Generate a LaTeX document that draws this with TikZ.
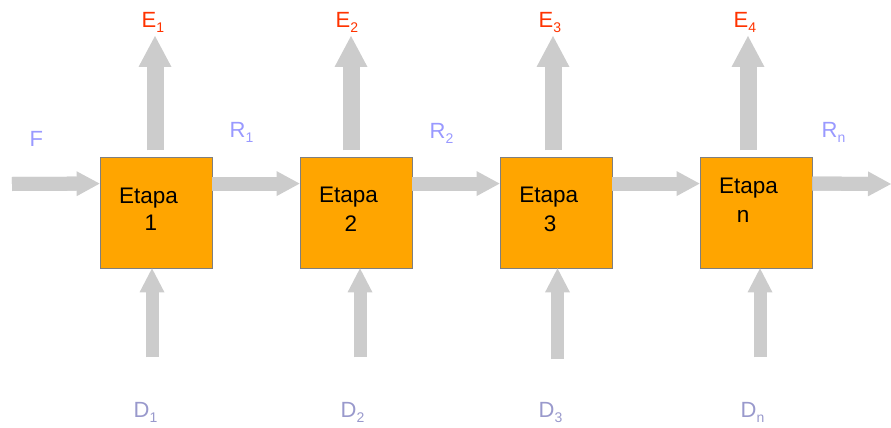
\documentclass[tikz,border=0pt]{standalone}
\usepackage{fontspec}
\setmainfont{Liberation Sans}
\usetikzlibrary{arrows.meta}
\definecolor{boxfill}{HTML}{FFA500}
\definecolor{boxline}{HTML}{7F7F7F}
\definecolor{arrowgray}{HTML}{CCCCCC}
\definecolor{ered}{HTML}{FF3300}
\definecolor{rblue}{HTML}{9999FF}
\definecolor{dpurple}{HTML}{9999CC}
\newcommand\sbs[1]{\raisebox{-5pt}{\fontsize{14}{14}\selectfont #1}}
\tikzset{
  stagebox/.style={draw=boxline, line width=0.8pt, fill=boxfill, minimum width=112pt, minimum height=111pt, inner sep=0pt},
  etxt/.style={anchor=base, inner sep=0pt, font=\fontsize{22.5}{22.5}\selectfont, text=black},
  lbl/.style={anchor=base west, inner sep=0pt, font=\fontsize{22}{22}\selectfont},
  harrow/.style={draw=arrowgray, line width=14pt, -{Triangle[width=25pt,length=23pt,line width=0pt]},
    preaction={draw=arrowgray, line width=14pt, arrows=-, shorten >=20pt}},
  uarrow/.style={draw=arrowgray, line width=17pt, -{Triangle[width=33pt,length=31pt,line width=0pt]},
    preaction={draw=arrowgray, line width=17pt, arrows=-, shorten >=28pt}},
  darrow/.style={draw=arrowgray, line width=13pt, -{Triangle[width=25pt,length=24pt,line width=0pt]},
    preaction={draw=arrowgray, line width=13pt, arrows=-, shorten >=21pt}},
}
\begin{document}
\begin{tikzpicture}[x=1pt,y=-1pt]
\useasboundingbox (0,0) rectangle (891,428);
% boxes
\node[stagebox] (b1) at (156,212.5) {};
\node[stagebox] (b2) at (356,212.5) {};
\node[stagebox] (b3) at (556,212.5) {};
\node[stagebox] (b4) at (756,212.5) {};
% box texts
\node[etxt] (t1a) at (148.5,203) {Etapa};
\node[etxt] (t1b) at (151,230) {1};
\node[etxt] (t2a) at (348.5,202) {Etapa};
\node[etxt] (t2b) at (351,231) {2};
\node[etxt] (t3a) at (548.8,202) {Etapa};
\node[etxt] (t3b) at (550,231) {3};
\node[etxt] (t4a) at (748.5,193) {Etapa};
\node[etxt] (t4b) at (743,222) {n};
% coordinates
\coordinate (fin) at (12,184);
\coordinate (rout) at (891,184);
\coordinate (e1s) at (155,150); \coordinate (e1t) at (155,36);
\coordinate (e2s) at (351,150); \coordinate (e2t) at (351,36);
\coordinate (e3s) at (553,150); \coordinate (e3t) at (553,36);
\coordinate (e4s) at (748,150); \coordinate (e4t) at (748,36);
\coordinate (d1s) at (152,357);
\coordinate (d2s) at (360,357);
\coordinate (d3s) at (557.5,359);
\coordinate (d4s) at (760,357);
% horizontal arrows
\draw[harrow] (fin) -- ([yshift=-27pt]b1.north west);
\draw[harrow] ([yshift=-27pt]b1.north east) -- ([yshift=-27pt]b2.north west);
\draw[harrow] ([yshift=-27pt]b2.north east) -- ([yshift=-27pt]b3.north west);
\draw[harrow] ([yshift=-27pt]b3.north east) -- ([yshift=-27pt]b4.north west);
\draw[harrow] ([yshift=-27pt]b4.north east) -- (rout);
% up arrows (E)
\draw[uarrow] (e1s) -- (e1t);
\draw[uarrow] (e2s) -- (e2t);
\draw[uarrow] (e3s) -- (e3t);
\draw[uarrow] (e4s) -- (e4t);
% up arrows (D)
\draw[darrow] (d1s) -- (d1s |- b1.south);
\draw[darrow] (d2s) -- (d2s |- b2.south);
\draw[darrow] (d3s) -- (d3s |- b3.south);
\draw[darrow] (d4s) -- (d4s |- b4.south);
% labels
\node[lbl, text=ered] (E1) at (141.5,28) {E\sbs{1}};
\node[lbl, text=ered] (E2) at (335.5,28) {E\sbs{2}};
\node[lbl, text=ered] (E3) at (538.5,28) {E\sbs{3}};
\node[lbl, text=ered] (E4) at (733.5,28) {E\sbs{4}};
\node[lbl, text=rblue] (F) at (29.5,146) {F};
\node[lbl, text=rblue] (R1) at (229.5,137) {R\sbs{1}};
\node[lbl, text=rblue] (R2) at (429.5,138) {R\sbs{2}};
\node[lbl, text=rblue] (Rn) at (821.5,137) {R\sbs{n}};
\node[lbl, text=dpurple] (D1) at (133.5,417) {D\sbs{1}};
\node[lbl, text=dpurple] (D2) at (340.5,417) {D\sbs{2}};
\node[lbl, text=dpurple] (D3) at (538.5,417) {D\sbs{3}};
\node[lbl, text=dpurple] (Dn) at (740.5,417) {D\sbs{n}};
\end{tikzpicture}
\end{document}
